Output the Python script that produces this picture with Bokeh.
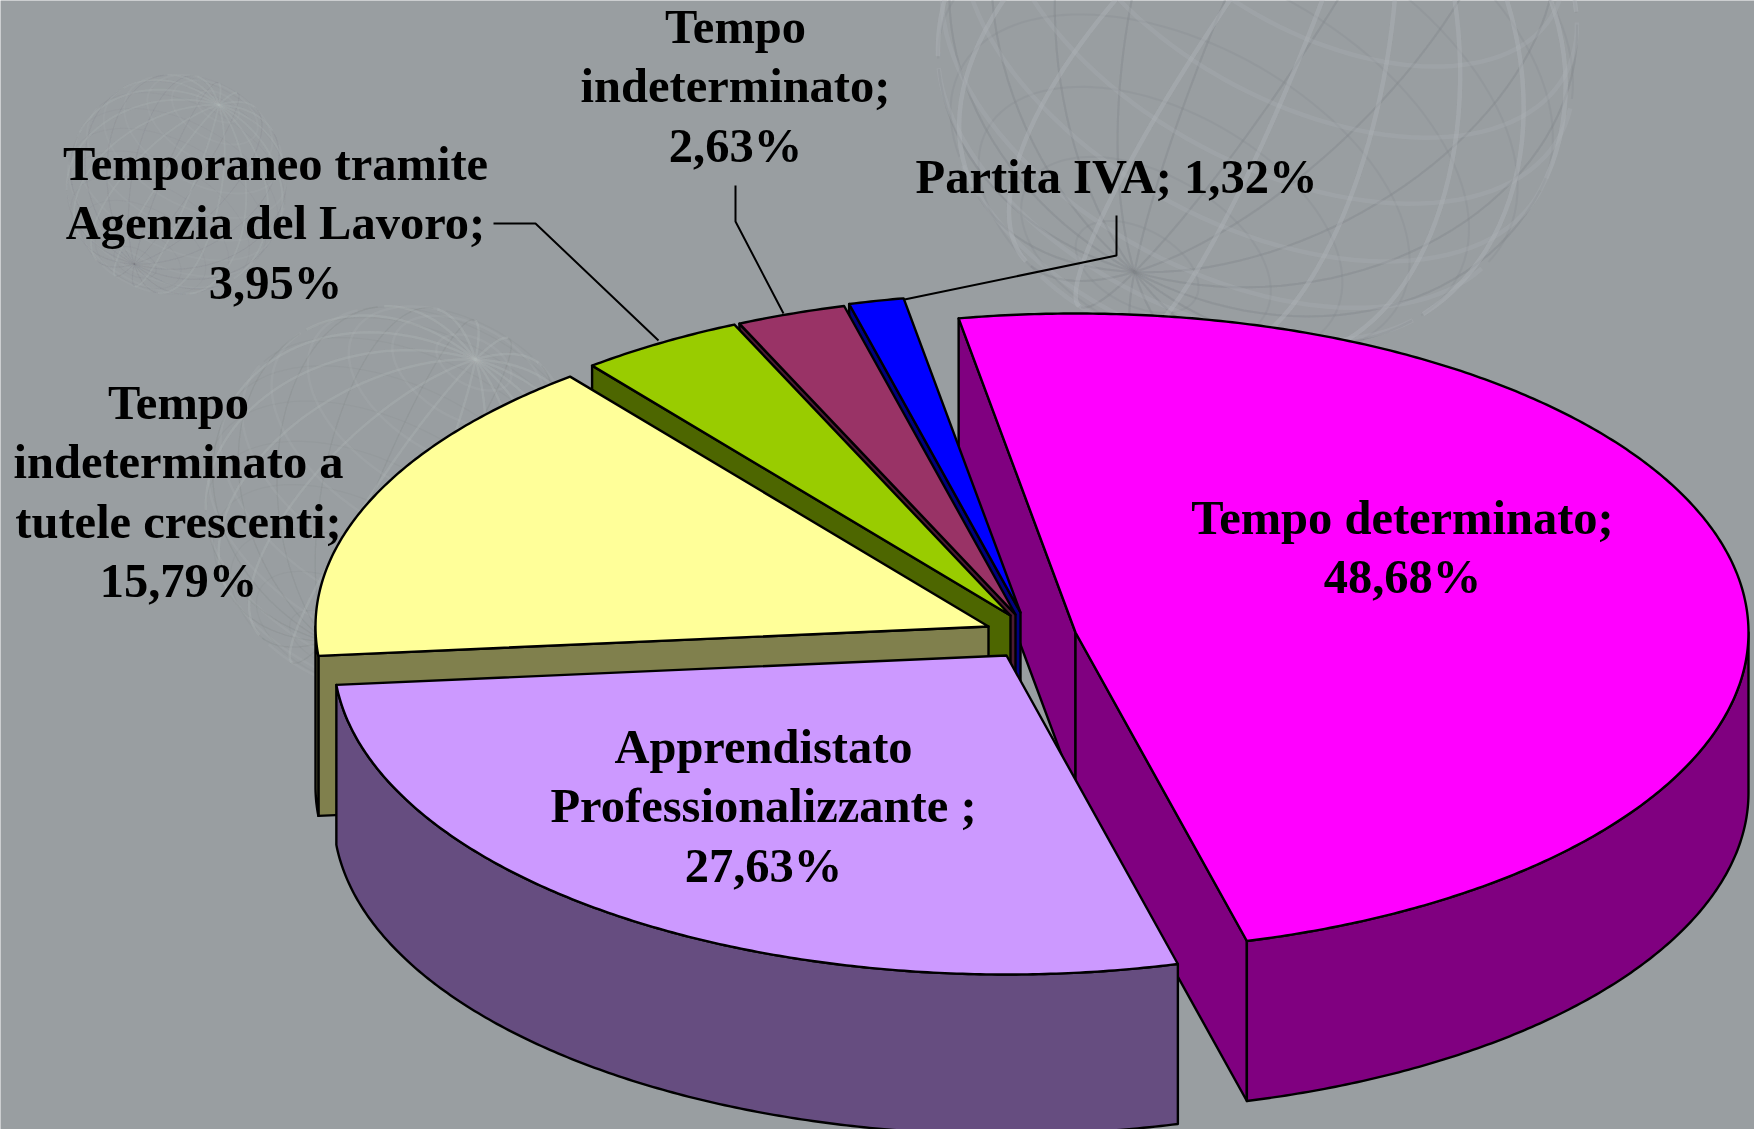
import numpy as np
from bokeh.plotting import figure
from bokeh.core.properties import value
from bokeh.embed import file_html
from bokeh.resources import INLINE

# ---------- data ----------
categories = ["Tempo determinato", "Apprendistato Professionalizzante",
              "Tempo indeterminato a tutele crescenti",
              "Temporaneo tramite Agenzia del Lavoro", "Tempo indeterminato", "Partita IVA"]
shares = [48.68, 27.63, 15.79, 3.95, 2.63, 1.32]
share_labels = ["48,68%", "27,63%", "15,79%", "3,95%", "2,63%", "1,32%"]
label_lines = [
    ["Tempo determinato;", share_labels[0]],
    ["Apprendistato", "Professionalizzante ;", share_labels[1]],
    ["Tempo", "indeterminato a", "tutele crescenti;", share_labels[2]],
    ["Temporaneo tramite", "Agenzia del Lavoro;", share_labels[3]],
    ["Tempo", "indeterminato;", share_labels[4]],
    ["Partita IVA; " + share_labels[5]],
]
top_colors = ["#FF00FF", "#CC99FF", "#FFFF99", "#99CC00", "#993366", "#0000FF"]
side_colors = ["#800080", "#664D80", "#80804D", "#4D6600", "#4D1A33", "#000080"]

# ---------- layout ----------
W, H = 1754, 1129
BG = "#999EA1"
RX, RY, DEPTH = 673.0, 319.0, 160.0
START = -10.0
apex_x = [1075, 1006, 988, 1010, 1015, 1020]
apex_y = [632, 655, 626, 615, 614, 612]
draw_order = [0, 5, 4, 3, 2, 1]
label_x = [1402, 763, 178, 275, 735, 1116]
label_y0 = [517, 746, 402, 163, 26, 176]
LINE_STEP = 59.3
leaders = [([493, 535, 658], [223, 223, 340]),
           ([735, 735, 783], [185, 221, 313]),
           ([1116, 1116, 904], [215, 255, 299])]
globes = [(1257, 40, 320, 0.14, 4.5), (400, 500, 195, 0.10, 2.5), (176, 184, 110, 0.08, 2.0)]

p = figure(width=W, height=H, x_range=(0, W), y_range=(H, 0),
           x_axis_type=None, y_axis_type=None, toolbar_location=None,
           output_backend="svg", min_border=0, outline_line_color=None,
           background_fill_color=BG, border_fill_color=BG)
p.grid.visible = False


# ---------- faint wire globes behind the chart ----------
def globe_lines(cx, cy, r, n_lat=13, n_lon=18, tilt=np.radians(35), roll=np.radians(-28)):
    front, back = [], []
    curves = []
    s = np.linspace(0, 2 * np.pi, 121)
    for la in np.linspace(-78, 78, n_lat):
        la = np.radians(la)
        curves.append((np.cos(la) * np.cos(s), np.full_like(s, np.sin(la)), np.cos(la) * np.sin(s)))
    for lo in np.arange(n_lon) * 2 * np.pi / n_lon:
        curves.append((np.cos(s) * np.cos(lo), np.sin(s), np.cos(s) * np.sin(lo)))
    for xx, yy, zz in curves:
        y2 = yy * np.cos(tilt) - zz * np.sin(tilt)
        z2 = yy * np.sin(tilt) + zz * np.cos(tilt)
        x3 = xx * np.cos(roll) - y2 * np.sin(roll)
        y3 = xx * np.sin(roll) + y2 * np.cos(roll)
        px = cx + r * x3
        py = cy - r * y3
        for sign, bucket in ((1, front), (-1, back)):
            idx = np.where((z2 * sign) >= 0)[0]
            if len(idx) == 0:
                continue
            for seg in np.split(idx, np.where(np.diff(idx) != 1)[0] + 1):
                if len(seg) > 1:
                    bucket.append((px[seg].tolist(), py[seg].tolist()))
    return front, back


for gx, gy, gr, ga, gw in globes:
    f, b = globe_lines(gx, gy, gr)
    p.multi_line([c[0] for c in b], [c[1] for c in b], line_color="#80868A",
                 line_alpha=ga * 1.6, line_width=gw * 0.45)
    p.multi_line([c[0] for c in f], [c[1] for c in f], line_color="#B4B9BC",
                 line_alpha=ga * 1.6, line_width=gw)

# ---------- 3D pie ----------
sweeps = np.array(shares) / sum(shares) * 360.0
starts = START + np.concatenate(([0.0], np.cumsum(sweeps)[:-1]))


def rim(ax, ay, a0, a1, drop=0.0):
    n = max(2, int(abs(a1 - a0) * 2) + 2)
    t = np.radians(np.linspace(a0, a1, n))
    return ax + RX * np.sin(t), ay - RY * np.cos(t) + drop


xs, ys, fills = [], [], []


def add(x, y, c):
    xs.append(list(map(float, x)))
    ys.append(list(map(float, y)))
    fills.append(c)


for i in draw_order:
    ax, ay = apex_x[i], apex_y[i]
    a0, a1 = starts[i], starts[i] + sweeps[i]
    # radial walls: only those whose extrusion falls outside the slice
    for a, visible in ((a0, np.sin(np.radians(a0)) < 0), (a1, np.sin(np.radians(a1)) > 0)):
        if visible:
            rx_, ry_ = rim(ax, ay, a, a + 1e-6)
            add([ax, rx_[0], rx_[0], ax], [ay, ry_[0], ry_[0] + DEPTH, ay + DEPTH], side_colors[i])
    # outer wall: the part of the rim facing the viewer
    lo, hi = max(a0, 90.0), min(a1, 270.0)
    if hi > lo:
        tx, ty = rim(ax, ay, lo, hi)
        bx, by = rim(ax, ay, hi, lo, DEPTH)
        add(np.r_[tx, bx], np.r_[ty, by], side_colors[i])
    # top face
    tx, ty = rim(ax, ay, a0, a1)
    add(np.r_[ax, tx], np.r_[ay, ty], top_colors[i])

p.patches(xs, ys, fill_color=fills, line_color="black", line_width=2.4, line_join="round")

# ---------- leader lines ----------
p.multi_line([l[0] for l in leaders], [l[1] for l in leaders], line_color="black", line_width=2)

# ---------- labels ----------
tx, ty, tt = [], [], []
for lines, lx, ly in zip(label_lines, label_x, label_y0):
    for k, s in enumerate(lines):
        tx.append(lx)
        ty.append(ly + k * LINE_STEP)
        tt.append(s)
p.text(tx, ty, text=tt, text_font=value("Liberation Serif"), text_font_style="bold",
       text_font_size="48.5px", text_color="black", text_align="center", text_baseline="middle")

open("out.html", "w").write(file_html(p, INLINE))
